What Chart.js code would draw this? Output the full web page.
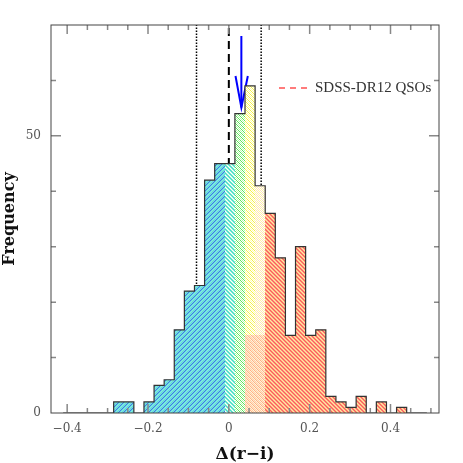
<!DOCTYPE html>
<html>
<head>
<meta charset="utf-8">
<script src="https://cdn.jsdelivr.net/npm/chart.js@4.4.1/dist/chart.umd.min.js"></script>
<style>
  html, body { margin: 0; padding: 0; background: #fff; }
</style>
</head>
<body>
<canvas id="myChart" width="463" height="463"></canvas>
<script>
// histogram of Delta(r-i) for the SDSS-DR12 QSOs, bins of 0.025
const binStart = -0.41;
const binWidth = 0.025;
const counts = [0, 0, 0, 0, 0, 2, 2, 0, 2, 5, 6, 15, 22, 23, 42, 45, 45, 54,
                59, 41, 36, 28, 14, 30, 14, 15, 3, 2, 1, 3, 0, 2, 0, 1, 0, 0];

const xTickLabels = [-0.4, -0.2, 0, 0.2, 0.4];
const yTickLabels = [0, 50];

// reference lines and the arrow marking the peak
const dottedLines = [-0.08, 0.08];
const dashedLine = 0;
const arrowX = 0.031;
const arrowTop = 68;
const arrowTip = 55.1;
const arrowWing = [0.0165, 0.047];
const arrowWingY = 60.8;

const legendText = 'SDSS-DR12 QSOs';

const binEdges = counts.map((c, i) => binStart + i * binWidth);

// histogram as a step line, filled down to zero
const outline = [{x: binEdges[0], y: 0}];
counts.forEach((c, i) => outline.push({x: binEdges[i], y: c}));
outline.push({x: binStart + counts.length * binWidth, y: 0});

function vline(v, dash, width) {
    return {
        data: [{x: v, y: 0}, {x: v, y: 70}],
        borderColor: '#000',
        borderWidth: width,
        borderDash: dash,
        pointRadius: 0,
        fill: false
    };
}

// coloured hatching that changes with Delta(r-i)
function hatchColor(v, n, px, py) {
    const d1 = ((px + py) % 5 + 5) % 5;
    const d2 = ((px - py) % 4 + 4) % 4;
    if (v < -0.01) return [[65, 115, 235], [95, 220, 225], [140, 235, 220], [95, 220, 225], [120, 225, 215]][d1];
    if (v < 0.015) return [[60, 215, 205], [140, 240, 200], [255, 255, 255], [170, 245, 225]][d2];
    if (v < 0.04) return [[90, 230, 90], [255, 255, 255], [180, 250, 170], [255, 255, 255]][d2];
    if (v < 0.065 && n >= 14) return [[245, 240, 70], [255, 255, 255], [255, 255, 170], [255, 255, 255]][d2];
    if (v < 0.09) {
        if (n < 14) return [[255, 175, 135], [255, 235, 200], [255, 205, 165], [255, 245, 225]][d2];
        return [[255, 245, 160], [255, 255, 255], [255, 225, 190], [255, 255, 255]][d2];
    }
    return [[250, 95, 90], [255, 180, 130], [255, 235, 160], [255, 140, 130]][d2];
}

function hatchPattern(chart) {
    const area = chart.chartArea;
    if (!area || !chart.scales.x) return '#9cd';
    const key = chart.width + 'x' + chart.height + ':' + area.left + ',' + area.top + ',' + area.right + ',' + area.bottom;
    if (chart.$hatch && chart.$hatch.key === key) return chart.$hatch.pat;
    const w = chart.canvas.width, h = chart.canvas.height;
    const c = document.createElement('canvas');
    c.width = w; c.height = h;
    const g = c.getContext('2d');
    const img = g.createImageData(w, h);
    const xs = chart.scales.x, ys = chart.scales.y;
    for (let px = 0; px < w; px++) {
        const v = xs.getValueForPixel(px + 0.5);
        for (let py = 0; py < h; py++) {
            const n = ys.getValueForPixel(py + 0.5);
            const col = hatchColor(v, n, px, py);
            const k = (py * w + px) * 4;
            img.data[k] = col[0];
            img.data[k + 1] = col[1];
            img.data[k + 2] = col[2];
            img.data[k + 3] = 255;
        }
    }
    g.putImageData(img, 0, 0);
    const pat = chart.ctx.createPattern(c, 'no-repeat');
    chart.$hatch = {key: key, pat: pat};
    return pat;
}

// frame with inward ticks on all four sides, plus the legend
const framePlugin = {
    id: 'frame',
    afterDatasetsDraw(chart) {
        const {ctx, chartArea: a, scales: {x, y}} = chart;
        ctx.save();
        ctx.strokeStyle = '#888';
        ctx.lineWidth = 1.5;
        ctx.beginPath();
        for (let i = -8; i <= 10; i++) {
            const p = x.getPixelForValue(i * 0.05);
            if (p < a.left || p > a.right) continue;
            const len = i % 4 === 0 ? 9 : 5;
            ctx.moveTo(p, a.bottom); ctx.lineTo(p, a.bottom - len);
            ctx.moveTo(p, a.top); ctx.lineTo(p, a.top + len);
        }
        for (let i = 1; i <= 6; i++) {
            const p = y.getPixelForValue(i * 10);
            const len = i % 5 === 0 ? 10 : 5;
            ctx.moveTo(a.left, p); ctx.lineTo(a.left + len, p);
            ctx.moveTo(a.right, p); ctx.lineTo(a.right - len, p);
        }
        ctx.stroke();
        ctx.strokeStyle = '#444';
        ctx.lineWidth = 1;
        ctx.strokeRect(a.left, a.top, a.right - a.left, a.bottom - a.top);

        // legend
        const lx = a.right - 160, ly = a.top + 63;
        ctx.strokeStyle = '#ff5050';
        ctx.lineWidth = 1.5;
        ctx.setLineDash([6, 5]);
        ctx.beginPath();
        ctx.moveTo(lx, ly); ctx.lineTo(lx + 28, ly);
        ctx.stroke();
        ctx.setLineDash([]);
        ctx.fillStyle = '#333';
        ctx.font = '15px "Liberation Serif"';
        ctx.textBaseline = 'middle';
        ctx.textAlign = 'left';
        ctx.fillText(legendText, lx + 36, ly);
        ctx.restore();
    }
};

function fmt(v) {
    if (v === 0) return '0';
    return (v < 0 ? '\u2212' : '') + Math.abs(v).toFixed(1);
}

Chart.defaults.font.family = '"DejaVu Serif"';

const ctx = document.getElementById('myChart').getContext('2d');
const myChart = new Chart(ctx, {
    type: 'line',
    data: {
        datasets: [
            {
                data: outline,
                stepped: 'before',
                borderColor: '#333',
                borderWidth: 1.2,
                backgroundColor: (c) => hatchPattern(c.chart),
                pointRadius: 0,
                fill: 'origin'
            },
            vline(dottedLines[0], [1.5, 1.5], 1.5),
            vline(dottedLines[1], [1.5, 1.5], 1.5),
            vline(dashedLine, [8, 5], 2),
            {
                data: [{x: arrowX, y: arrowTop}, {x: arrowX, y: arrowTip}],
                borderColor: '#0000ff',
                borderWidth: 2,
                pointRadius: 0,
                fill: false
            },
            {
                data: [{x: arrowWing[0], y: arrowWingY}, {x: arrowX, y: arrowTip}, {x: arrowWing[1], y: arrowWingY}],
                borderColor: '#0000ff',
                borderWidth: 2,
                borderJoinStyle: 'miter',
                pointRadius: 0,
                fill: false
            }
        ]
    },
    options: {
        responsive: false,
        animation: false,
        layout: {padding: {top: 25, right: 24, left: 0, bottom: 0}},
        plugins: {
            legend: {display: false},
            tooltip: {enabled: false}
        },
        scales: {
            x: {
                type: 'linear',
                offset: false,
                min: -0.44,
                max: 0.52,
                afterBuildTicks: (s) => { s.ticks = xTickLabels.map(v => ({value: v})); },
                afterFit: (s) => { s.height = 50; },
                grid: {display: false, drawTicks: false},
                border: {display: false},
                ticks: {
                    callback: (v) => fmt(v),
                    autoSkip: false,
                    maxRotation: 0,
                    padding: 9,
                    color: '#555',
                    font: {size: 12}
                },
                title: {
                    display: true,
                    text: 'Δ(r−i)',
                    color: '#111',
                    font: {size: 17, weight: 'bold', lineHeight: 1},
                    padding: {top: 0, bottom: 0}
                }
            },
            y: {
                min: 0,
                max: 70,
                afterBuildTicks: (s) => { s.ticks = yTickLabels.map(v => ({value: v})); },
                afterFit: (s) => { s.width = 51; },
                grid: {display: false, drawTicks: false},
                border: {display: false},
                ticks: {
                    callback: (v) => String(v),
                    padding: 10,
                    color: '#555',
                    font: {size: 12}
                },
                title: {
                    display: true,
                    text: 'Frequency',
                    color: '#111',
                    font: {size: 16, weight: 'bold'},
                    padding: {top: 0, bottom: 0}
                }
            }
        }
    },
    plugins: [framePlugin]
});
</script>
</body>
</html>
